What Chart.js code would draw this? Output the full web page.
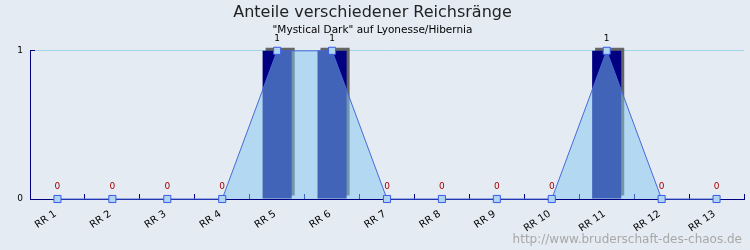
<!DOCTYPE html>
<html>
<head>
<meta charset="utf-8">
<script src="https://cdn.jsdelivr.net/npm/chart.js@4/dist/chart.umd.min.js"></script>
<style>
  html, body { margin: 0; padding: 0; background: #E4EBF3; }
  #wrap { width: 750px; height: 250px; position: relative; }
</style>
</head>
<body>
<div id="wrap"><canvas id="c" width="750" height="250"></canvas></div>
<script>
// ---- data ----
const categories = ["RR 1","RR 2","RR 3","RR 4","RR 5","RR 6","RR 7","RR 8","RR 9","RR 10","RR 11","RR 12","RR 13"];
const barValues  = [0,0,0,0,1,1,0,0,0,0,1,0,0];
const lineValues = [0,0,0,0,1,1,0,0,0,0,1,0,0];
const yTicks = [0, 1];
const titleText = "Anteile verschiedener Reichsränge";
const subtitleText = "\"Mystical Dark\" auf Lyonesse/Hibernia";
const watermarkText = "http://www.bruderschaft-des-chaos.de";

const BG = '#E4EBF3';
const NAVY = '#000080';

const bgPlugin = {
  id: 'bg',
  beforeDraw(chart) {
    const ctx = chart.ctx;
    ctx.save();
    ctx.fillStyle = BG;
    ctx.fillRect(0, 0, chart.width, chart.height);
    ctx.restore();
  }
};

const shadowPlugin = {
  id: 'barShadow',
  beforeDatasetDraw(chart, args) {
    if (chart.data.datasets[args.index].type === 'bar') {
      const ctx = chart.ctx;
      ctx.save();
      ctx.shadowColor = '#666666';
      ctx.shadowOffsetX = 3;
      ctx.shadowOffsetY = -3;
      ctx.shadowBlur = 0;
    }
  },
  afterDatasetDraw(chart, args) {
    if (chart.data.datasets[args.index].type === 'bar') {
      chart.ctx.restore();
    }
  }
};

const valueLabelPlugin = {
  id: 'valueLabels',
  afterDatasetsDraw(chart) {
    const idx = chart.data.datasets.findIndex(d => d.type === 'line');
    const meta = chart.getDatasetMeta(idx);
    const vals = chart.data.datasets[idx].data;
    const ctx = chart.ctx;
    ctx.save();
    ctx.font = '9px "DejaVu Sans"';
    ctx.textAlign = 'center';
    ctx.textBaseline = 'middle';
    meta.data.forEach((pt, i) => {
      const v = vals[i];
      ctx.fillStyle = v === 0 ? '#AA0000' : '#000000';
      ctx.fillText(String(v), pt.x, pt.y - 12);
    });
    ctx.restore();
  }
};

const watermarkPlugin = {
  id: 'watermark',
  afterDraw(chart) {
    const ctx = chart.ctx;
    ctx.save();
    ctx.font = '12px "DejaVu Sans"';
    ctx.fillStyle = '#A8A8A8';
    ctx.textAlign = 'right';
    ctx.textBaseline = 'middle';
    ctx.fillText(watermarkText, 742, 240);
    ctx.restore();
  }
};

new Chart(document.getElementById('c'), {
  data: {
    labels: categories,
    datasets: [
      {
        type: 'line',
        data: lineValues,
        order: 0,
        clip: false,
        borderColor: '#4A6AD8',
        borderWidth: 1,
        backgroundColor: 'rgba(130,198,240,0.5)',
        fill: 'origin',
        tension: 0,
        pointStyle: 'rect',
        pointRadius: 5,
        pointBorderWidth: 1,
        pointBorderColor: '#3A5CE8',
        pointBackgroundColor: '#AED4F0'
      },
      {
        type: 'bar',
        data: barValues,
        order: 1,
        clip: false,
        backgroundColor: NAVY,
        borderWidth: 0,
        categoryPercentage: 1,
        barPercentage: 0.53
      }
    ]
  },
  options: {
    responsive: false,
    animation: false,
    events: [],
    layout: { padding: { left: 0, right: 5, top: 0, bottom: 0 } },
    plugins: {
      legend: { display: false },
      tooltip: { enabled: false },
      title: {
        display: true,
        text: titleText,
        color: '#222222',
        font: { family: '"DejaVu Sans"', size: 16, weight: 'normal' },
        padding: { top: 3, bottom: 2 }
      },
      subtitle: {
        display: true,
        text: subtitleText,
        color: '#000000',
        font: { family: '"DejaVu Sans"', size: 10.5, weight: 'normal' },
        padding: { top: 0, bottom: 14 }
      }
    },
    scales: {
      x: {
        type: 'category',
        offset: true,
        grid: {
          offset: true,
          drawOnChartArea: false,
          drawTicks: true,
          tickLength: -5,
          tickColor: NAVY
        },
        border: { display: true, color: NAVY, width: 1 },
        ticks: {
          color: '#000000',
          font: { family: '"DejaVu Sans"', size: 10 },
          minRotation: 34,
          maxRotation: 34,
          autoSkip: false,
          labelOffset: -2,
          padding: 14
        },
        afterFit(scale) { scale.height = 51; }
      },
      y: {
        min: 0,
        max: 1,
        afterBuildTicks(scale) { scale.ticks = yTicks.map(v => ({ value: v })); },
        grid: {
          color: '#9FD5E6',
          drawTicks: true,
          tickLength: -5,
          tickColor: NAVY
        },
        border: { display: true, color: NAVY, width: 1 },
        ticks: {
          color: '#000000',
          font: { family: '"DejaVu Sans"', size: 9 },
          padding: 12
        },
        afterFit(scale) { scale.width = 30; }
      }
    }
  },
  plugins: [bgPlugin, shadowPlugin, valueLabelPlugin, watermarkPlugin]
});
</script>
</body>
</html>
